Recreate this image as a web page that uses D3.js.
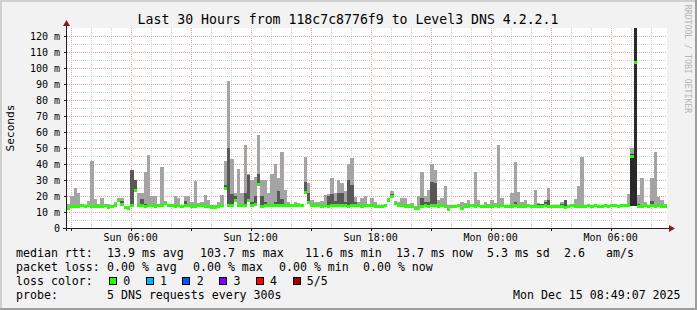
<!DOCTYPE html>
<html>
<head>
<meta charset="utf-8">
<script src="https://cdn.jsdelivr.net/npm/d3@7"></script>
<style>
  body { margin: 0; background: #f2f2f2; }
  svg text { font-family: "DejaVu Sans Mono", monospace; white-space: pre; fill: #000; }
</style>
</head>
<body>
<svg id="chart"></svg>
<script>
// ---- data (one value every 10 minutes) ----
const startTime = new Date(Date.UTC(2025, 11, 14, 2, 49, 7));
const endTime = new Date(Date.UTC(2025, 11, 15, 8, 49, 7));
const stepMinutes = 10;

// median rtt in ms
const medianRtt = [
  12.4, 13.2, 13.6, 13.3, 13.8, 13.5, 13.9, 13.4, 13.7, 13.2,
  13.6, 13.9, 13.1, 13.5, 14.0, 17.0, 15.0, 12.6, 12.3, 14.2,
  23.5, 14.1, 13.8, 13.6, 13.9, 14.2, 13.7, 13.9, 14.1, 15.5,
  13.8, 14.0, 13.5, 13.9, 13.6, 14.2, 13.8, 13.4, 13.6, 14.0,
  13.9, 13.5, 13.2, 13.0, 12.6, 13.4, 13.8, 24.5, 14.1, 14.0,
  17.5, 14.2, 13.9, 14.1, 17.2, 14.3, 14.8, 27.0, 13.7, 14.2,
  14.0, 13.8, 14.1, 14.3, 13.9, 14.2, 14.0, 13.8, 14.1, 13.9,
  14.2, 22.5, 16.0, 13.8, 14.1, 13.9, 13.6, 14.0, 13.7, 14.2,
  13.9, 14.1, 13.8, 14.0, 13.7, 14.1, 13.9, 14.2, 13.6, 13.9,
  14.0, 13.8, 13.5, 13.7, 13.6, 13.9, 17.0, 20.0, 15.2, 13.9,
  13.8, 13.5, 13.7, 13.2, 12.4, 12.2, 13.4, 13.8, 13.5, 13.9,
  14.0, 13.6, 13.8, 13.7, 11.8, 13.4, 13.6, 13.9, 12.2, 13.5,
  13.7, 13.9, 13.6, 13.8, 13.4, 13.7, 13.5, 13.2, 13.8, 13.6,
  13.9, 13.5, 13.3, 13.7, 13.9, 13.6, 13.2, 13.5, 13.8, 13.4,
  13.6, 13.3, 13.5, 13.8, 13.4, 13.7, 13.2, 13.6, 13.4, 13.1,
  13.5, 13.8, 13.6, 13.3, 13.7, 13.5, 13.9, 13.6, 13.8, 13.5,
  13.7, 13.9, 13.6, 13.8, 14.0, 13.7, 13.9, 13.8, 14.0, 44.6,
  103.7, 13.6, 13.4, 13.8, 13.5, 13.9, 13.6, 13.8, 13.5, 13.7
];

// highest ping of each round (top of the light smoke)
const smokeMax = [
  15, 20, 25, 22, 14.5, 14.5, 17, 42, 18, 15,
  18.5, 14.5, 15, 14.5, 16.5, 19, 18.5, 14, 14, 36,
  30, 22, 22, 35, 45.5, 20, 20, 14.5, 38, 17,
  15, 14.5, 20, 18.5, 14.5, 20, 20, 16.5, 29.5, 15.5,
  16, 20.5, 17.5, 14.5, 14.5, 16, 20.5, 42, 92, 43,
  22, 37, 22, 52, 34, 30, 32, 58, 30, 30,
  22, 34, 40, 31, 47.5, 24, 16, 15, 16, 15.5,
  15, 44.5, 28, 17.5, 16, 16, 17, 20.5, 21, 31,
  22, 30, 28, 23, 40, 43.5, 19.5, 16.5, 18.5, 20,
  15, 19, 16, 14.5, 14.5, 14.5, 19, 23, 17, 16,
  18.5, 19, 15, 15.5, 14, 20, 35, 20, 23.5, 40,
  36.5, 17.5, 18.5, 26, 14.5, 14.5, 14.5, 15, 16.5, 15.5,
  17.5, 15, 35, 17.5, 14.5, 16.5, 15, 17.5, 15.5, 52,
  18.5, 14.5, 14.5, 22, 41.5, 22.5, 16.5, 17.5, 14.5, 14.5,
  23.5, 15.5, 15, 17.5, 25, 14.5, 14.5, 14.5, 16.5, 17.5,
  14.5, 14.5, 18, 26, 44.5, 14.5, 14.5, 14.5, 15, 14.5,
  14.5, 14.5, 14.5, 14.5, 15, 14.5, 15, 15, 21, 50,
  130, 20.5, 31, 16, 14.5, 31, 47.5, 19.5, 17.5, 15
];

// 4th ping of each round (top of the dark smoke), 0 = hidden under the median
const smokeDark = [
  0, 0, 0, 0, 0, 0, 0, 0, 0, 0,
  0, 0, 0, 0, 0, 18, 17, 0, 0, 36,
  30, 15, 18, 15, 15, 0, 0, 0, 0, 16.5,
  0, 0, 0, 0, 0, 17, 15, 0, 0, 0,
  0, 0, 0, 0, 0, 0, 0, 27, 50, 21,
  20, 15, 0, 22, 33, 16, 20, 34, 20, 16,
  0, 0, 16, 23, 18, 15, 0, 0, 0, 0,
  0, 29, 22, 15, 0, 0, 0, 0, 20, 21,
  17, 22, 22, 16, 30, 27, 16, 15, 0, 0,
  0, 0, 0, 0, 0, 0, 18, 21, 16, 0,
  0, 0, 0, 0, 0, 0, 19, 16, 16, 29,
  28, 0, 0, 0, 0, 0, 0, 0, 0, 0,
  0, 0, 0, 0, 0, 0, 0, 0, 0, 0,
  0, 0, 0, 0, 16, 0, 0, 0, 0, 0,
  0, 15, 15, 16, 17.5, 0, 0, 0, 15, 17.5,
  0, 0, 0, 0, 0, 0, 0, 0, 0, 0,
  0, 0, 0, 0, 0, 0, 0, 0, 0, 46,
  130, 15, 0, 0, 0, 17, 0, 0, 0, 0
];

// rounds where the 2nd ping sat well below the median: [round index, ms]
const smokeDarkFloor = [[169, 14], [170, 14]];

const yTicks = [0, 10, 20, 30, 40, 50, 60, 70, 80, 90, 100, 110, 120];
const titleText = "Last 30 Hours from 118c7c8776f9 to Level3 DNS 4.2.2.1";
const rttStats = ["13.9 ms avg", "103.7 ms max", "11.6 ms min", "13.7 ms now", "5.3 ms sd", "2.6", "am/s"];
const lossStats = ["0.00 % avg", "0.00 % max", "0.00 % min", "0.00 % now"];
const lossLabels = ["0", "1", "2", "3", "4", "5/5"];
const lossColors = ["#26ff00", "#00b8ff", "#0059ff", "#7e00ff", "#ff0000", "#a10000"];
const probeText = "5 DNS requests every 300s";
const stampText = "Mon Dec 15 08:49:07 2025";

// ---- layout ----
const W = 697, H = 310;
const plotLeft = 67, plotRight = 667, plotTop = 28, plotBottom = 228;
const rttCols = [107, 200, 305, 396, 487, 564, 606];
const lossCols = [107, 193, 279, 363];
const legendRowsY = [257, 271, 285, 299];

const svg = d3.select("#chart")
    .attr("width", W)
    .attr("height", H);

// background and 3d frame
svg.append("rect").attr("width", W).attr("height", H).attr("fill", "#f2f2f2");
svg.append("path")
    .attr("d", `M0,0H${W}V2H2V${H}H0Z`)
    .attr("fill", "#cfcfcf");
svg.append("path")
    .attr("d", `M${W},${H}H0V${H - 2}H${W - 2}V0H${W}Z`)
    .attr("fill", "#9e9e9e");

// canvas
svg.append("rect")
    .attr("x", plotLeft).attr("y", plotTop)
    .attr("width", plotRight - plotLeft).attr("height", plotBottom - plotTop)
    .attr("fill", "#fff");

// scales
const xScale = d3.scaleUtc().domain([startTime, endTime]).range([plotLeft, plotRight]);
const yScale = d3.scaleLinear().domain([0, 125]).range([plotBottom, plotTop]);

// grid
const grid = svg.append("g").attr("shape-rendering", "crispEdges");
const hours = d3.utcHour.range(startTime, endTime);
grid.selectAll("line.vgrid")
    .data(hours)
    .join("line")
    .attr("class", "vgrid")
    .attr("x1", d => Math.round(xScale(d)) + 0.5)
    .attr("x2", d => Math.round(xScale(d)) + 0.5)
    .attr("y1", plotTop)
    .attr("y2", plotBottom)
    .attr("stroke", d => d.getUTCHours() % 3 === 0 ? "#eba3a3" : "#cfcfcf")
    .attr("stroke-dasharray", "1,1");

const yGrid = d3.range(5, 125, 5);
grid.selectAll("line.hgrid")
    .data(yGrid)
    .join("line")
    .attr("class", "hgrid")
    .attr("x1", plotLeft)
    .attr("x2", plotRight)
    .attr("y1", d => Math.round(yScale(d)) + 0.5)
    .attr("y2", d => Math.round(yScale(d)) + 0.5)
    .attr("stroke", d => d % 10 === 0 ? "#eba3a3" : "#cfcfcf")
    .attr("stroke-dasharray", "1,1");

// clip to the canvas
svg.append("clipPath").attr("id", "plotClip")
    .append("rect")
    .attr("x", plotLeft).attr("y", plotTop)
    .attr("width", plotRight - plotLeft).attr("height", plotBottom - plotTop);

const floorByRound = new Map(smokeDarkFloor);
const rounds = medianRtt.map((m, i) => ({
    t0: d3.utcMinute.offset(startTime, i * stepMinutes),
    t1: d3.utcMinute.offset(startTime, (i + 1) * stepMinutes),
    med: m,
    max: smokeMax[i],
    dark: smokeDark[i],
    floor: floorByRound.has(i) ? floorByRound.get(i) : m
}));

const plot = svg.append("g")
    .attr("clip-path", "url(#plotClip)")
    .attr("shape-rendering", "crispEdges");

// light smoke
plot.selectAll("rect.smoke")
    .data(rounds)
    .join("rect")
    .attr("class", "smoke")
    .attr("x", d => xScale(d.t0))
    .attr("width", d => xScale(d.t1) - xScale(d.t0))
    .attr("y", d => yScale(d.max))
    .attr("height", d => Math.max(0, yScale(d.med) - yScale(d.max)))
    .attr("fill", "#a4a4a4");

// dark smoke
plot.selectAll("rect.dark")
    .data(rounds.filter(d => d.dark > d.floor))
    .join("rect")
    .attr("class", "dark")
    .attr("x", d => xScale(d.t0))
    .attr("width", d => xScale(d.t1) - xScale(d.t0))
    .attr("y", d => yScale(d.dark))
    .attr("height", d => yScale(d.floor) - yScale(d.dark))
    .attr("fill", d => d.floor < d.med ? "#2a2a2a" : "#585858");

// median band, coloured by loss (all rounds had 0 loss)
plot.selectAll("rect.median")
    .data(rounds)
    .join("rect")
    .attr("class", "median")
    .attr("x", d => xScale(d.t0))
    .attr("width", d => xScale(d.t1) - xScale(d.t0))
    .attr("y", d => yScale(d.med) - 1.5)
    .attr("height", 3)
    .attr("fill", lossColors[0]);

// axes
const axis = svg.append("g").attr("shape-rendering", "crispEdges");
axis.append("line")
    .attr("x1", plotLeft - 0.5).attr("x2", plotLeft - 0.5)
    .attr("y1", plotBottom + 3).attr("y2", plotTop - 4)
    .attr("stroke", "#1f1f1f");
axis.append("line")
    .attr("x1", plotLeft - 4).attr("x2", plotRight + 3)
    .attr("y1", plotBottom + 0.5).attr("y2", plotBottom + 0.5)
    .attr("stroke", "#1f1f1f");
axis.selectAll("line.ytick")
    .data(yTicks)
    .join("line")
    .attr("class", "ytick")
    .attr("x1", plotLeft - 3).attr("x2", plotLeft)
    .attr("y1", d => Math.round(yScale(d)) + 0.5)
    .attr("y2", d => Math.round(yScale(d)) + 0.5)
    .attr("stroke", "#1f1f1f");
axis.selectAll("line.xtick")
    .data(hours.filter(d => d.getUTCHours() % 3 === 0))
    .join("line")
    .attr("class", "xtick")
    .attr("x1", d => Math.round(xScale(d)) + 0.5)
    .attr("x2", d => Math.round(xScale(d)) + 0.5)
    .attr("y1", plotBottom)
    .attr("y2", plotBottom + 3)
    .attr("stroke", "#1f1f1f");

// arrows
svg.append("path")
    .attr("d", `M${plotLeft - 4},${plotTop - 2}L${plotLeft - 0.5},${plotTop - 8}L${plotLeft + 3},${plotTop - 2}Z`)
    .attr("fill", "#801f1f");
svg.append("path")
    .attr("d", `M${plotRight + 2},${plotBottom - 3}L${plotRight + 8},${plotBottom + 0.5}L${plotRight + 2},${plotBottom + 4}Z`)
    .attr("fill", "#801f1f");

// y labels
svg.selectAll("text.ylab")
    .data(yTicks)
    .join("text")
    .attr("class", "ylab")
    .attr("x", 60)
    .attr("y", d => yScale(d) + 3.5)
    .attr("text-anchor", "end")
    .attr("font-size", "10px")
    .text(d => d === 0 ? "0" : d + " m");

// x labels every 6 hours
const fmt = d3.utcFormat("%a %H:%M");
svg.selectAll("text.xlab")
    .data(hours.filter(d => d.getUTCHours() % 6 === 0))
    .join("text")
    .attr("class", "xlab")
    .attr("x", d => xScale(d))
    .attr("y", 241)
    .attr("text-anchor", "middle")
    .attr("font-size", "10px")
    .text(fmt);

// title, unit and watermark
svg.append("text")
    .attr("x", 348).attr("y", 24)
    .attr("text-anchor", "middle")
    .attr("font-size", "13.2px")
    .text(titleText);
svg.append("text")
    .attr("transform", "translate(14,128) rotate(-90)")
    .attr("text-anchor", "middle")
    .attr("font-size", "11.2px")
    .text("Seconds");
svg.append("text")
    .attr("transform", "translate(684.5,59) rotate(90)")
    .attr("text-anchor", "middle")
    .attr("font-size", "8.2px")
    .style("fill", "#b4b4b4")
    .text("RRDTOOL / TOBI OETIKER");

// legend
const legend = svg.append("g").attr("font-size", "11.6px");
legend.append("text").attr("x", 16).attr("y", legendRowsY[0]).text("median rtt:");
legend.selectAll("text.rtt")
    .data(rttStats)
    .join("text")
    .attr("class", "rtt")
    .attr("x", (d, i) => rttCols[i])
    .attr("y", legendRowsY[0])
    .text(d => d);

legend.append("text").attr("x", 16).attr("y", legendRowsY[1]).text("packet loss:");
legend.selectAll("text.loss")
    .data(lossStats)
    .join("text")
    .attr("class", "loss")
    .attr("x", (d, i) => lossCols[i])
    .attr("y", legendRowsY[1])
    .text(d => d);

legend.append("text").attr("x", 16).attr("y", legendRowsY[2]).text("loss color:");
const swatch = legend.selectAll("g.swatch")
    .data(lossLabels)
    .join("g")
    .attr("class", "swatch")
    .attr("transform", (d, i) => `translate(${109 + i * 36.7},0)`);
swatch.append("rect")
    .attr("x", 0.5).attr("y", legendRowsY[2] - 7.5)
    .attr("width", 7).attr("height", 7)
    .attr("fill", (d, i) => lossColors[i])
    .attr("stroke", "#000")
    .attr("shape-rendering", "crispEdges");
swatch.append("text")
    .attr("x", 14.3)
    .attr("y", legendRowsY[2])
    .text(d => d);

legend.append("text").attr("x", 16).attr("y", legendRowsY[3]).text("probe:");
legend.append("text").attr("x", 107).attr("y", legendRowsY[3]).text(probeText);
legend.append("text").attr("x", 513).attr("y", legendRowsY[3]).text(stampText);
</script>
</body>
</html>
